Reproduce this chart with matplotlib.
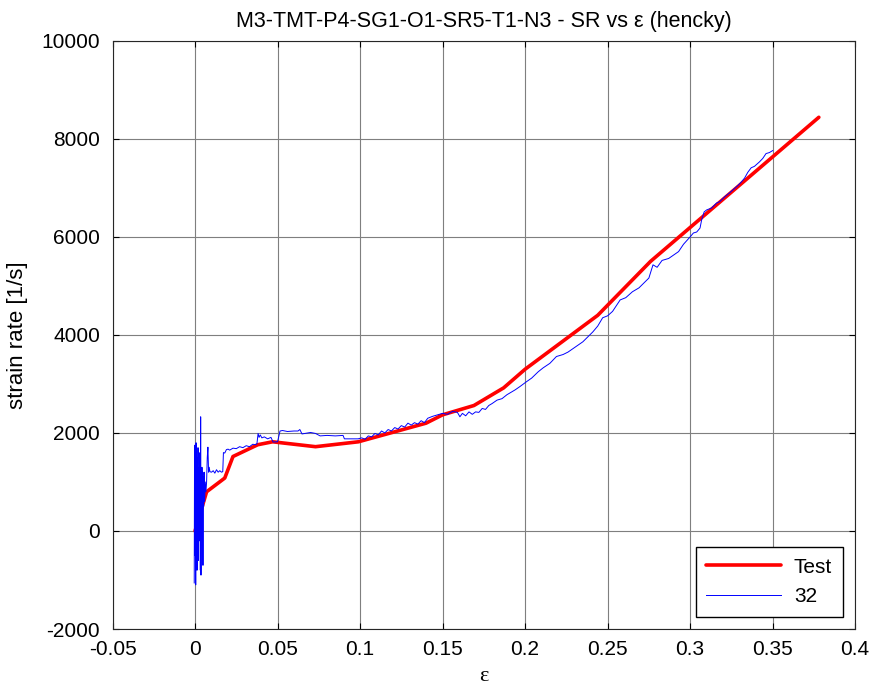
import numpy as np
import matplotlib.pyplot as plt

plt.rcParams.update({
    'font.family': ['Liberation Sans', 'DejaVu Sans'],
    'font.size': 15,
    'axes.unicode_minus': False,
})

# Test curve (red)
test_eps = [0.0, 0.007, 0.018, 0.023, 0.038, 0.047, 0.073, 0.099, 0.140, 0.150,
            0.169, 0.187, 0.200, 0.244, 0.276, 0.378]
test_sr = [0, 800, 1080, 1520, 1760, 1820, 1720, 1820, 2200, 2370,
           2560, 2920, 3300, 4400, 5500, 8440]

# Simulation "32" (blue)
sim_eps = [-0.0005, -0.0003, 0.0000, 0.0002, 0.0004, 0.0006, 0.0008, 0.0010, 0.0012, 0.0014,
           0.0016, 0.0018, 0.0020, 0.0022, 0.0024, 0.0026, 0.0028, 0.0030, 0.0032, 0.0034,
           0.0036, 0.0038, 0.0040, 0.0042, 0.0044, 0.0046, 0.0048, 0.0050, 0.0052, 0.0055,
           0.0058, 0.0062, 0.0066, 0.0070, 0.0074, 0.0078, 0.0082, 0.0086, 0.0090, 0.0100,
           0.0110, 0.0120, 0.0130, 0.0140, 0.0150, 0.0160, 0.0168, 0.0172, 0.0180, 0.0190,
           0.0200, 0.0210, 0.0230, 0.0250, 0.0270, 0.0290, 0.0310, 0.0330, 0.0350, 0.0366,
           0.0375, 0.0382, 0.0388, 0.0395, 0.0405, 0.0420, 0.0440, 0.0460, 0.0473, 0.0500,
           0.0515, 0.0530, 0.0560, 0.0600, 0.0624, 0.0635, 0.0648, 0.0665, 0.0679, 0.0700,
           0.0730, 0.0758, 0.0800, 0.0850, 0.0897, 0.0905, 0.0950, 0.0988, 0.1010, 0.1030,
           0.1050, 0.1070, 0.1090, 0.1110, 0.1130, 0.1150, 0.1170, 0.1190, 0.1210, 0.1230,
           0.1250, 0.1270, 0.1290, 0.1310, 0.1330, 0.1350, 0.1370, 0.1390, 0.1410, 0.1440,
           0.1470, 0.1500, 0.1530, 0.1560, 0.1590, 0.1605, 0.1620, 0.1640, 0.1660, 0.1680,
           0.1700, 0.1720, 0.1740, 0.1760, 0.1780, 0.1800, 0.1830, 0.1860, 0.1890, 0.1910,
           0.1940, 0.1970, 0.2006, 0.2040, 0.2080, 0.2110, 0.2150, 0.2190, 0.2230, 0.2260,
           0.2290, 0.2320, 0.2350, 0.2380, 0.2410, 0.2440, 0.2470, 0.2500, 0.2530, 0.2576,
           0.2610, 0.2650, 0.2690, 0.2720, 0.2750, 0.2775, 0.2800, 0.2830, 0.2870, 0.2900,
           0.2930, 0.2960, 0.3000, 0.3020, 0.3040, 0.3060, 0.3070, 0.3085, 0.3100, 0.3130,
           0.3160, 0.3180, 0.3210, 0.3240, 0.3260, 0.3290, 0.3310, 0.3330, 0.3350, 0.3370,
           0.3390, 0.3420, 0.3440, 0.3460, 0.3480, 0.3500]
sim_sr = [-1060, 1750, -500, 1700, -1100, 1800, -300, 1500, -800, 1400,
          200, 1700, -600, 1000, 400, 1300, -200, 1600, -800, 2330,
          -900, 1100, -100, 1300, 400, 1200, -700, 1100, 500, 1200,
          600, 1000, 800, 1000, 1500, 1710, 1200, 1300, 1210, 1200,
          1230, 1180, 1250, 1200, 1230, 1200, 1210, 1600, 1590, 1660,
          1670, 1650, 1690, 1680, 1720, 1700, 1740, 1720, 1770, 1760,
          1780, 1990, 1910, 1960, 1900, 1920, 1880, 1910, 1815, 1820,
          2040, 2050, 2030, 2040, 2040, 2070, 1980, 1990, 2000, 2010,
          1990, 1940, 1950, 1940, 1950, 1880, 1880, 1880, 1900, 1870,
          1940, 1920, 1990, 1960, 2040, 2000, 2070, 2040, 2110, 2080,
          2150, 2120, 2200, 2160, 2210, 2180, 2250, 2210, 2300, 2340,
          2370, 2400, 2380, 2440, 2420, 2330, 2400, 2350, 2430, 2380,
          2430, 2420, 2500, 2480, 2560, 2600, 2670, 2700, 2780, 2820,
          2880, 2950, 3040, 3120, 3250, 3330, 3420, 3560, 3600, 3650,
          3720, 3790, 3860, 3960, 4060, 4180, 4350, 4390, 4480, 4714,
          4760, 4880, 4960, 5060, 5160, 5430, 5380, 5520, 5560, 5630,
          5700, 5850, 6000, 6080, 6100, 6180, 6350, 6510, 6550, 6590,
          6690, 6720, 6820, 6900, 6960, 7050, 7120, 7200, 7320, 7410,
          7440, 7530, 7600, 7700, 7720, 7760]

fig = plt.figure(figsize=(8.71, 6.92), dpi=100)
ax = fig.add_axes([0.1292, 0.091, 0.8526, 0.85])

ax.plot(test_eps, test_sr, color='#ff0000', linewidth=2.6,
        solid_capstyle='round', label='Test', zorder=3)
ax.plot(sim_eps, sim_sr, color='#0000ff', linewidth=0.7, label='32', zorder=4)

ax.set_xlim(-0.05, 0.4)
ax.set_ylim(-2000, 10000)
ax.set_xticks(np.arange(-0.05, 0.41, 0.05))
ax.set_xticklabels(['-0.05', '0', '0.05', '0.1', '0.15', '0.2', '0.25', '0.3', '0.35', '0.4'])
ax.set_yticks(np.arange(-2000, 10001, 2000))

ax.grid(True, color='#7f7f7f', linewidth=0.8, linestyle='-')
ax.set_axisbelow(True)
ax.tick_params(direction='in', top=True, right=True, length=4, width=0.8)
ax.tick_params(axis='x', pad=8)
ax.tick_params(axis='y', pad=9)
for s in ax.spines.values():
    s.set_color('#262626')
    s.set_linewidth(0.8)

ax.set_title('M3-TMT-P4-SG1-O1-SR5-T1-N3 - SR vs ε (hencky)', fontsize=15.5, pad=10)
ax.set_xlabel('ε', family=['Liberation Serif', 'DejaVu Serif'], fontsize=16, labelpad=6)
ax.set_ylabel('strain rate [1/s]', fontsize=16, labelpad=10)

leg = ax.legend(loc='lower right', fontsize=15, fancybox=False, framealpha=1,
                edgecolor='black', handlelength=3.6, handletextpad=0.6, borderpad=0.5,
                labelspacing=0.5, borderaxespad=0.6)
leg.get_frame().set_linewidth(1.0)

plt.savefig('out.png', dpi=100)
